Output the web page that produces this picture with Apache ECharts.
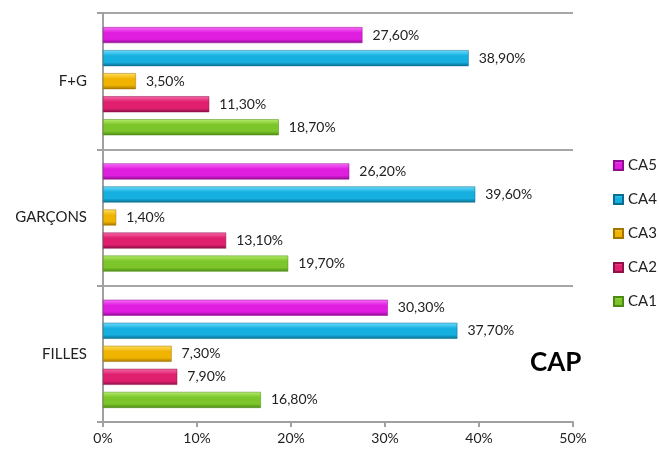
<!DOCTYPE html>
<html>
<head>
<meta charset="utf-8">
<script src="https://cdn.jsdelivr.net/npm/echarts@6/dist/echarts.min.js"></script>
<style>
  html, body { margin: 0; padding: 0; background: #fff; }
  #main { width: 659px; height: 454px; }
</style>
</head>
<body>
<div id="main"></div>
<script>
  // données (en %)
  var categories = ['FILLES', 'GARÇONS', 'F+G'];
  var seriesNames = ['CA1', 'CA2', 'CA3', 'CA4', 'CA5'];
  var ca1 = [16.8, 19.7, 18.7];
  var ca2 = [7.9, 13.1, 11.3];
  var ca3 = [7.3, 1.4, 3.5];
  var ca4 = [37.7, 39.6, 38.9];
  var ca5 = [30.3, 26.2, 27.6];
  var xTicks = [0, 10, 20, 30, 40, 50];

  var values = [ca1, ca2, ca3, ca4, ca5];
  // couleurs : clair (haut), milieu, sombre (bas)
  var colors = [
    ['#b4ec6a', '#7cc52a', '#4c8a14'],
    ['#f46aa8', '#e0206e', '#8e1046'],
    ['#ffe060', '#f0b400', '#a47400'],
    ['#6fdcff', '#16b0e0', '#0a6e90'],
    ['#f870f8', '#e01ee0', '#900c90']
  ];

  function grad(c) {
    return new echarts.graphic.LinearGradient(0, 0, 0, 1, [
      {offset: 0, color: c[0]},
      {offset: 0.35, color: c[1]},
      {offset: 0.75, color: c[1]},
      {offset: 1, color: c[2]}
    ]);
  }

  // en barres horizontales, la première série est en haut : on inverse
  var series = [];
  for (var i = seriesNames.length - 1; i >= 0; i--) {
    series.push({
      name: seriesNames[i],
      type: 'bar',
      data: values[i],
      barWidth: 16,
      barGap: '44%',
      itemStyle: {
        color: grad(colors[i]),
        borderColor: colors[i][2],
        borderWidth: 0.5
      },
      label: {
        show: true,
        position: 'right',
        distance: 10,
        color: '#222',
        fontSize: 14,
        fontFamily: 'Lato',
        formatter: function (p) {
          return p.value.toFixed(2).replace('.', ',') + '%';
        }
      }
    });
  }

  var myChart = echarts.init(document.getElementById('main'));
  myChart.setOption({
    animation: false,
    textStyle: {fontFamily: 'Lato'},
    grid: {left: 103, right: 86, top: 13, bottom: 32},
    legend: {
      data: seriesNames.slice().reverse(),
      orient: 'vertical',
      left: 613,
      top: 158,
      padding: 0,
      icon: 'rect',
      itemWidth: 9,
      itemHeight: 9,
      itemGap: 19,
      textStyle: {fontSize: 15, color: '#222', fontFamily: 'Lato'}
    },
    xAxis: {
      type: 'value',
      min: 0,
      max: 50,
      interval: 10,
      axisLine: {show: true, lineStyle: {color: '#a0a0a0', width: 2}},
      axisTick: {show: true, length: 5, lineStyle: {color: '#a0a0a0', width: 2}},
      splitLine: {show: false},
      axisLabel: {
        fontSize: 14,
        color: '#222',
        margin: 9,
        formatter: function (v) { return xTicks.indexOf(v) >= 0 ? v + '%' : ''; }
      }
    },
    yAxis: {
      type: 'category',
      data: categories,
      axisLine: {show: true, lineStyle: {color: '#a0a0a0', width: 2}},
      axisTick: {show: true, length: 6, lineStyle: {color: '#a0a0a0', width: 2}},
      splitLine: {show: true, lineStyle: {color: '#a6a6a6', width: 2}},
      axisLabel: {fontSize: 15, color: '#222', margin: 16}
    },
    graphic: [{
      type: 'text',
      left: 530,
      top: 350,
      style: {text: 'CAP', font: 'bold 26px Lato', fill: '#000'}
    }],
    series: series
  });
</script>
</body>
</html>
